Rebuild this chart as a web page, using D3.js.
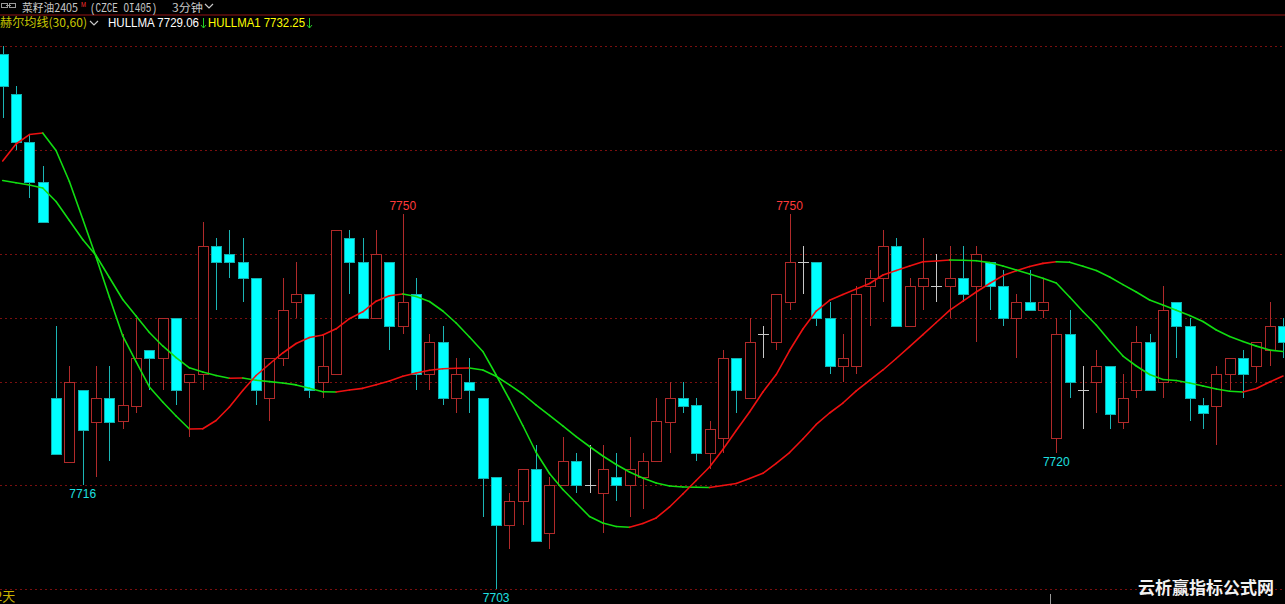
<!DOCTYPE html>
<html><head><meta charset="utf-8">
<script src="https://cdn.jsdelivr.net/npm/d3@7"></script>
<style>
html,body{margin:0;padding:0;background:#000;overflow:hidden;}
svg{display:block;}
</style></head>
<body>
<svg id="chart" width="1285" height="604"></svg>
<script>
// ---- data ----
const opens  = [7770,7765,7759,7754,7727,7719,7728,7724,7727,7724,7726,7733,7732,7737,7729,7730,7746,7745,7744,7742,
                7727,7732,7739,7740,7729,7730,7747,7744,7737,7744,7736,7740,7730,7734,7727,7729,7727,7717,7711,7714,
                7718,7710,7716,7719,7716,7715,7717,7716,7717,7719,7724,7727,7726,7720,7722,7732,7727,7735,7734,7739,
                7744,7744,7737,7731,7731,7741,7742,7746,7736,7741,7741,7741,7742,7741,7744,7741,7737,7739,7738,7722,
                7735,7728,7729,7731,7724,7728,7734,7729,7739,7736,7726,7726,7730,7732,7731,7733,7736];
const highs  = [7771,7766,7760,7756,7736,7731,7728,7731,7731,7735,7737,7733,7737,7737,7730,7749,7747,7748,7747,7742,
                7732,7742,7744,7740,7735,7748,7748,7747,7748,7744,7750,7742,7735,7736,7732,7732,7727,7717,7715,7718,
                7721,7717,7722,7720,7721,7721,7720,7722,7720,7727,7729,7729,7727,7724,7733,7732,7737,7736,7740,7750,
                7746,7744,7739,7735,7741,7743,7748,7747,7742,7747,7745,7746,7746,7746,7744,7743,7740,7743,7742,7737,
                7738,7731,7733,7731,7730,7736,7735,7741,7739,7737,7727,7731,7732,7733,7734,7739,7737];
const lows   = [7762,7758,7752,7749,7720,7719,7716,7717,7719,7723,7725,7728,7728,7726,7722,7728,7738,7742,7739,7726,
                7724,7731,7737,7727,7727,7730,7740,7737,7737,7733,7735,7728,7728,7726,7725,7725,7712,7703,7708,7711,
                7709,7708,7716,7715,7715,7710,7714,7712,7713,7719,7720,7725,7719,7718,7720,7725,7727,7732,7733,7738,
                7740,7736,7730,7729,7730,7736,7739,7736,7736,7738,7739,7737,7739,7734,7738,7736,7732,7738,7737,7720,
                7727,7723,7725,7723,7723,7727,7728,7727,7732,7724,7723,7721,7728,7727,7729,7731,7732];
const closes = [7766,7759,7754,7749,7720,7729,7723,7727,7724,7726,7732,7732,7737,7728,7730,7746,7744,7744,7742,7728,
                7732,7738,7740,7728,7731,7748,7744,7737,7745,7736,7739,7730,7734,7727,7730,7728,7717,7711,7714,7718,
                7709,7716,7719,7716,7716,7718,7716,7718,7719,7724,7727,7726,7720,7723,7732,7728,7734,7735,7740,7744,
                7744,7737,7731,7732,7740,7742,7746,7736,7741,7742,7741,7742,7740,7745,7741,7737,7739,7738,7739,7735,
                7729,7728,7731,7725,7727,7734,7728,7738,7736,7727,7725,7730,7732,7730,7734,7736,7734];
const hullma  = [7756.64,7758.77,7759.96,7760.15,7757.96,7754.07,7749.37,7744.61,7739.60,7734.71,7731.51,7728.32,7726.44,7724.68,7723.05,7723.08,7724.12,7725.81,7727.88,7729.76,
                 7731.20,7732.58,7733.77,7734.52,7734.83,7735.61,7736.88,7737.74,7739.07,7739.75,7739.97,7739.66,7739.03,7737.84,7736.34,7734.58,7732.77,7729.82,7726.75,7723.49,
                 7720.11,7717.48,7715.47,7713.78,7712.09,7711.27,7710.83,7710.73,7711.21,7711.90,7713.28,7714.91,7716.60,7718.29,7720.48,7722.87,7725.18,7727.69,7729.88,7732.89,
                 7735.59,7737.84,7739.18,7739.91,7740.60,7741.29,7742.35,7742.92,7743.48,7744.02,7744.11,7744.23,7744.20,7744.15,7743.91,7743.48,7742.98,7742.48,7741.94,7741.35,
                 7739.60,7737.78,7736.09,7734.08,7732.20,7730.95,7729.88,7729.26,7729.13,7728.82,7728.44,7728.07,7727.78,7727.69,7728.13,7728.94,7729.70];
const hullma1 = [7754.20,7753.91,7753.63,7753.26,7751.57,7749.18,7746.80,7744.80,7742.04,7739.28,7737.22,7735.15,7733.46,7732.01,7730.72,7730.20,7729.75,7729.41,7729.45,7729.16,
                 7728.99,7728.82,7728.58,7728.17,7727.73,7727.70,7727.94,7728.15,7728.61,7729.07,7729.66,7730.07,7730.41,7730.61,7730.66,7730.69,7730.45,7729.66,7728.59,7727.44,
                 7726.06,7724.75,7723.43,7722.11,7720.86,7719.67,7718.60,7717.66,7716.91,7716.29,7715.91,7715.78,7715.75,7715.72,7715.98,7716.23,7716.85,7717.50,7718.74,7720.10,
                 7721.80,7723.62,7725.06,7726.31,7727.82,7729.16,7730.45,7731.89,7733.38,7734.88,7736.40,7737.92,7739.07,7740.22,7741.29,7742.28,7742.89,7743.41,7743.81,7744.02,
                 7743.96,7743.46,7742.92,7742.10,7741.15,7740.22,7739.22,7738.59,7737.93,7737.27,7736.53,7735.46,7734.65,7734.02,7733.44,7732.95,7732.77];
const gridLevels = [7771,7758,7745,7737,7729,7716,7703];
const markers = [ {i:30, v:7750, type:"high"}, {i:59, v:7750, type:"high"},
                  {i:6, v:7716, type:"low"}, {i:37, v:7703, type:"low"}, {i:79, v:7720, type:"low"} ];
const titleText = "菜籽油2405", titleCode = "(CZCE OI405)", periodText = "3分钟";
const indName = "赫尔均线(30,60)", lastHull = "HULLMA 7729.06", lastHull1 = "HULLMA1 7732.25";

// ---- drawing ----
const W = 1285, H = 604;
const svg = d3.select("#chart");
svg.append("rect").attr("width", W).attr("height", H).attr("fill", "#000");

const n = closes.length;
const x = d3.scaleLinear().domain([0, n - 1]).range([2.7, 1283]);
const y = d3.scaleLinear().domain([7703, 7750]).range([589, 214]);
const px = v => Math.round(v) + 0.5;

// separator line under title
svg.append("line").attr("x1", 0).attr("x2", W).attr("y1", 15).attr("y2", 15)
  .attr("stroke", "#4a0a0a").attr("stroke-width", 2);

// grid
svg.append("g").selectAll("line").data(gridLevels).join("line")
  .attr("x1", 0).attr("x2", W)
  .attr("y1", d => px(y(d))).attr("y2", d => px(y(d)))
  .attr("stroke", "#7a0f0f").attr("stroke-width", 1).attr("stroke-dasharray", "2,3");

// candles
const data = d3.range(n).map(i => ({i, o: opens[i], h: highs[i], l: lows[i], c: closes[i]}));
const cg = svg.append("g");
const colorOf = d => d.c > d.o ? "up" : (d.c < d.o ? "down" : "flat");
data.forEach(d => {
  const cx = px(x(d.i));
  const t = colorOf(d);
  const wickColor = t === "up" ? "#b02a2a" : (t === "down" ? "#1bb5b5" : "#c8c8c8");
  const top = Math.min(y(d.o), y(d.c)), bot = Math.max(y(d.o), y(d.c));
  cg.append("line").attr("x1", cx).attr("x2", cx)
    .attr("y1", Math.round(y(d.h))).attr("y2", Math.round(y(d.l)))
    .attr("stroke", wickColor).attr("stroke-width", 1);
  if (t === "flat") {
    cg.append("line").attr("x1", cx - 5.5).attr("x2", cx + 5.5)
      .attr("y1", px(y(d.o))).attr("y2", px(y(d.o)))
      .attr("stroke", "#c8c8c8").attr("stroke-width", 1);
  } else if (t === "up") {
    cg.append("rect").attr("x", cx - 5).attr("y", px(top))
      .attr("width", 10).attr("height", Math.max(1, Math.round(bot - top)))
      .attr("fill", "#000").attr("stroke", "#b02a2a").attr("stroke-width", 1);
  } else {
    cg.append("rect").attr("x", cx - 5).attr("y", px(top))
      .attr("width", 10).attr("height", Math.max(1, Math.round(bot - top)))
      .attr("fill", "#00ffff").attr("stroke", "#12b0b0").attr("stroke-width", 1);
  }
});

// HULL lines, colored by direction
function drawLine(vals) {
  const g = svg.append("g");
  for (let i = 1; i < vals.length; i++) {
    const up = vals[i] > vals[i - 1];
    g.append("line")
      .attr("x1", x(i - 1)).attr("y1", y(vals[i - 1]))
      .attr("x2", x(i)).attr("y2", y(vals[i]))
      .attr("stroke", up ? "#ee1111" : "#11dd11")
      .attr("stroke-width", 1.6).attr("stroke-linecap", "round");
  }
}
drawLine(hullma1);
drawLine(hullma);

// high / low markers
svg.append("g").selectAll("text").data(markers).join("text")
  .attr("x", d => x(d.i)).attr("y", d => d.type === "high" ? y(d.v) - 4 : y(d.v) + 13)
  .attr("text-anchor", "middle")
  .attr("font-family", "Liberation Sans, Arial, sans-serif").attr("font-size", 12)
  .attr("fill", d => d.type === "high" ? "#ff3a3a" : "#1ee0e0")
  .text(d => d.v);

// header
const hdr = svg.append("g").attr("font-family", "Noto Sans CJK SC, sans-serif").attr("font-size", 12);
function htext(xx, yy, txt, color, len, opts = {}) {
  const t = hdr.append("text").attr("x", xx).attr("y", yy).attr("fill", color).text(txt);
  if (len) t.attr("textLength", len).attr("lengthAdjust", "spacingAndGlyphs");
  Object.entries(opts).forEach(([k, v]) => t.attr(k, v));
  return t;
}
// link icon
hdr.append("rect").attr("x", 1.5).attr("y", 3.5).attr("width", 6).attr("height", 4).attr("fill", "none").attr("stroke", "#9a9a9a");
hdr.append("rect").attr("x", 9.5).attr("y", 3.5).attr("width", 6).attr("height", 4).attr("fill", "none").attr("stroke", "#9a9a9a");
hdr.append("line").attr("x1", 6).attr("x2", 11).attr("y1", 5.5).attr("y2", 5.5).attr("stroke", "#9a9a9a");
htext(22, 11.5, titleText, "#c8c8c8", 56, {"font-size": 11.5});
htext(81, 7, "M", "#ff3030", 5, {"font-size": 7, "font-family": "Liberation Sans, sans-serif"});
htext(90, 11.5, titleCode, "#c8c8c8", 67, {"font-size": 12, "font-family": "Liberation Mono, monospace"});
htext(172, 11.5, periodText, "#c8c8c8", 31, {"font-size": 11.5});
hdr.append("path").attr("d", "M205,4 L209,8 L213,4").attr("fill", "none").attr("stroke", "#c8c8c8").attr("stroke-width", 1.2);

htext(0, 27, indName, "#c8c800", 87);
hdr.append("path").attr("d", "M90,21 L94,25 L98,21").attr("fill", "none").attr("stroke", "#c8c8c8").attr("stroke-width", 1.2);
htext(108, 27, lastHull, "#ffffff", 91, {"font-family": "Liberation Sans, sans-serif"});
htext(208, 27, lastHull1, "#ffff00", 97, {"font-family": "Liberation Sans, sans-serif"});
// down arrows
[203.5, 309.5].forEach(ax => {
  hdr.append("path").attr("d", `M${ax},18 L${ax},28 M${ax-2.5},25 L${ax},28 L${ax+2.5},25`)
    .attr("fill", "none").attr("stroke", "#22cc22").attr("stroke-width", 1);
});

// bottom-left cut label and small tick
svg.append("text").attr("x", -5).attr("y", 601).attr("fill", "#c8b400")
  .attr("font-family", "Noto Sans CJK SC, sans-serif").attr("font-size", 13).text("2天");
svg.append("line").attr("x1", 1050.5).attr("x2", 1050.5).attr("y1", 594).attr("y2", 604).attr("stroke", "#9a9a9a");

// watermark
svg.append("text").attr("x", 1138).attr("y", 594).attr("fill", "#f2f2f2")
  .attr("font-family", "Noto Sans CJK SC, sans-serif").attr("font-weight", "bold").attr("font-size", 17)
  .text("云析赢指标公式网");
</script>
</body></html>
